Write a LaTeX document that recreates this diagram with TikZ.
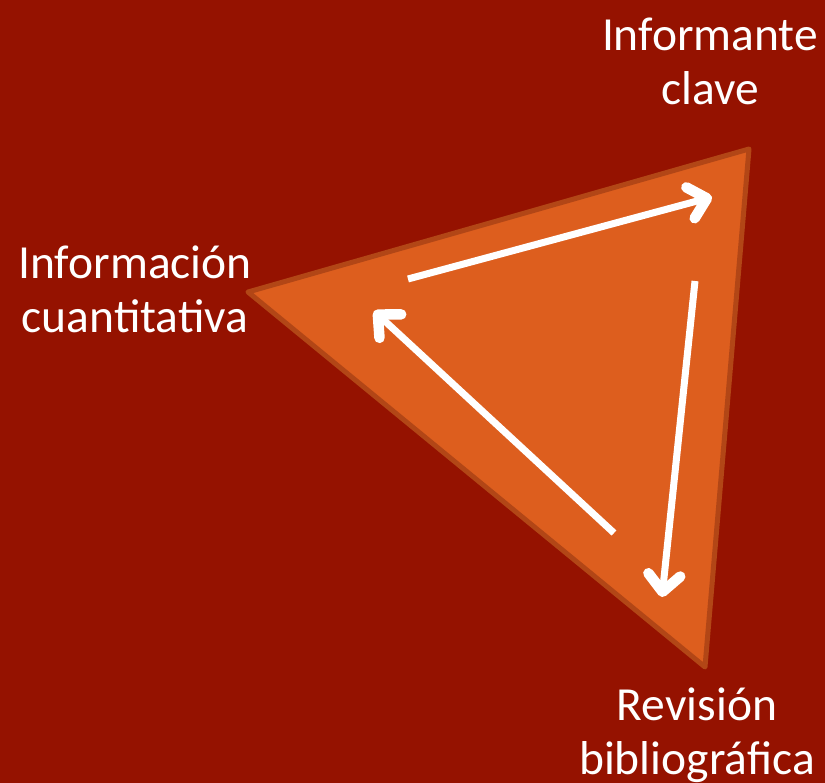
\documentclass[tikz,border=0pt]{standalone}
\usepackage{fontspec}
\setmainfont{Carlito}
\usetikzlibrary{arrows.meta}
\definecolor{fondo}{RGB}{149,18,0}
\definecolor{naranja}{RGB}{221,94,30}
\definecolor{borde}{RGB}{178,70,22}
\begin{document}
\begin{tikzpicture}[x=1pt,y=-1pt,>={Straight Barb[round,length=17pt,width=32pt,line width=0pt 1.5]},
    lbl/.style={align=center,text=white,inner sep=0pt,font=\fontsize{47.5}{54}\selectfont},
    flecha/.style={->,draw=white,line width=7pt}]
\fill[fondo] (0,0) rectangle (825,783);
\useasboundingbox (0,0) rectangle (825,783);
\coordinate (izq) at (248,292); \coordinate (sup) at (749,149); \coordinate (inf) at (705,667);
\filldraw[fill=naranja,draw=borde,line width=5pt,line join=round] (izq)--(sup)--(inf)--cycle;
\node[lbl] (clave) at (710,61) {Informante\\clave};
\node[lbl] (cuant) at (135,289) {Información\\cuantitativa};
\node[lbl] (biblio) at (697,735) {Revisión\\bibliográfica};
\coordinate (a1) at (408,279); \coordinate (b1) at (712,197);
\coordinate (a2) at (695,281); \coordinate (b2) at (662,597);
\coordinate (a3) at (614,533); \coordinate (b3) at (374,311);
\draw[flecha] (a1)--(b1); \draw[flecha] (a2)--(b2); \draw[flecha] (a3)--(b3);
\end{tikzpicture}
\end{document}
